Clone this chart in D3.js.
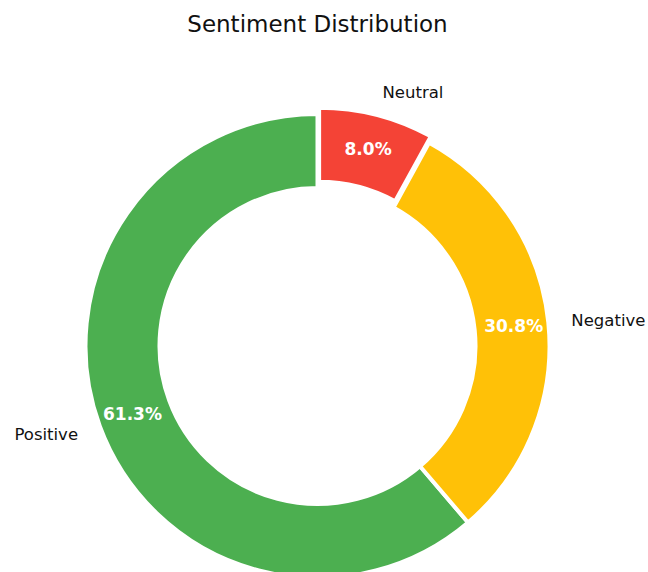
<!DOCTYPE html>
<html>
<head>
<meta charset="utf-8">
<script src="https://cdn.jsdelivr.net/npm/d3@7"></script>
<style>
  body { margin: 0; background: #fff; }
  text { font-family: "DejaVu Sans", sans-serif; }
</style>
</head>
<body>
<svg id="chart"></svg>
<script>
// data
const labels = ["Positive", "Negative", "Neutral"];
const values = [61.3, 30.8, 8.0];
const colors = ["#4caf50", "#ffc107", "#f44336"];
const explode = [0, 0, 6.5];

const svgWidth = 648, svgHeight = 572;
const cx = 317.5, cy = 346, outerR = 232, innerR = 158;

const svg = d3.select("#chart")
    .attr("width", svgWidth)
    .attr("height", svgHeight);

svg.append("text")
    .attr("x", cx)
    .attr("y", 32)
    .attr("text-anchor", "middle")
    .style("font-size", "23px")
    .style("fill", "#111")
    .text("Sentiment Distribution");

// counterclockwise from the top, like matplotlib startangle=90
const pie = d3.pie().sort(null).startAngle(0).endAngle(-2 * Math.PI);
const arcs = pie(values);

const arc = d3.arc().innerRadius(innerR).outerRadius(outerR);
const pctArc = d3.arc().innerRadius(outerR * 0.85).outerRadius(outerR * 0.85);
const labelArc = d3.arc().innerRadius(outerR * 1.1).outerRadius(outerR * 1.1);

const g = svg.append("g").attr("transform", "translate(" + cx + "," + cy + ")");

const slice = g.selectAll("g.slice")
    .data(arcs)
    .enter()
    .append("g")
    .attr("class", "slice")
    .attr("transform", function (d, i) {
        const mid = (d.startAngle + d.endAngle) / 2;
        return "translate(" + [Math.sin(mid) * explode[i], -Math.cos(mid) * explode[i]] + ")";
    });

slice.append("path")
    .attr("d", arc)
    .attr("fill", (d, i) => colors[i])
    .attr("stroke", "#fff")
    .attr("stroke-width", 4)
    .attr("stroke-linejoin", "round");

slice.append("text")
    .attr("transform", d => "translate(" + pctArc.centroid(d) + ")")
    .attr("text-anchor", "middle")
    .attr("dominant-baseline", "central")
    .style("font-size", "17px")
    .style("font-weight", "bold")
    .style("fill", "#fff")
    .text(d => d.value.toFixed(1) + "%");

slice.append("text")
    .attr("transform", d => "translate(" + labelArc.centroid(d) + ")")
    .attr("text-anchor", d => labelArc.centroid(d)[0] > 0 ? "start" : "end")
    .attr("dominant-baseline", "central")
    .style("font-size", "16.5px")
    .style("fill", "#111")
    .text((d, i) => labels[i]);
</script>
</body>
</html>
